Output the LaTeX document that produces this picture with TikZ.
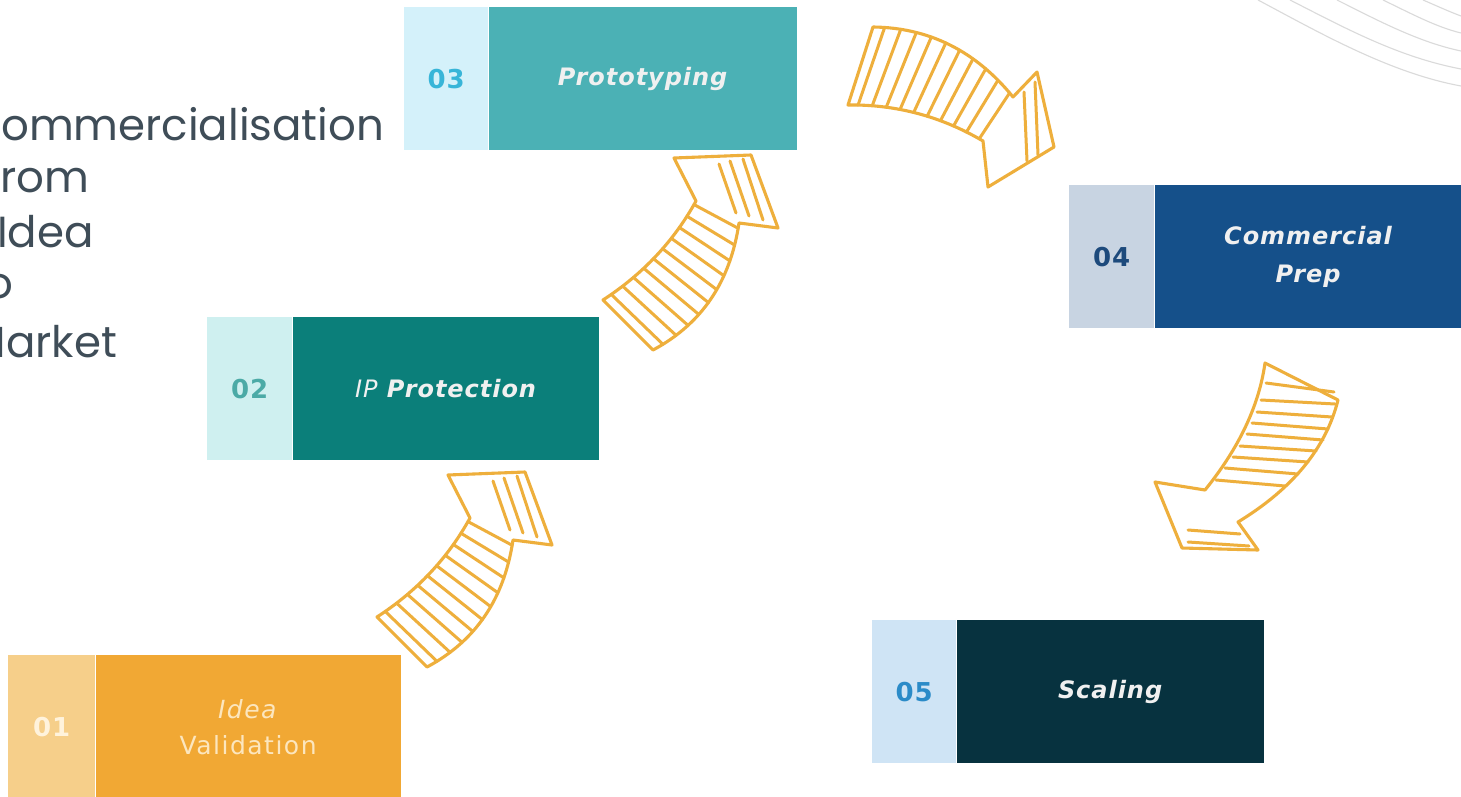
\documentclass[tikz,border=0pt]{standalone}
\usepackage{fontspec}
\setmainfont{DejaVu Sans}
\newfontfamily\leftfont{Poppins}
\newfontfamily\boxfont[LetterSpace=4]{DejaVu Sans}
\newfontfamily\valfont[LetterSpace=6]{DejaVu Sans}
\usetikzlibrary{calc}
\definecolor{aL}{HTML}{F6CF8A}\definecolor{aD}{HTML}{F1A834}\definecolor{aN}{HTML}{FFF3DC}\definecolor{aT}{HTML}{FCE6BE}
\definecolor{bL}{HTML}{CFF0F0}\definecolor{bD}{HTML}{0B7F7A}\definecolor{bN}{HTML}{4BAAA6}
\definecolor{cL}{HTML}{D4F1FA}\definecolor{cD}{HTML}{4BB1B5}\definecolor{cN}{HTML}{38B5D8}
\definecolor{dL}{HTML}{C8D4E2}\definecolor{dD}{HTML}{15508A}\definecolor{dN}{HTML}{1D4A7C}
\definecolor{eL}{HTML}{CFE4F5}\definecolor{eD}{HTML}{07323F}\definecolor{eN}{HTML}{2B8BC8}
\definecolor{arrc}{HTML}{EEAF3C}
\definecolor{lefttxt}{HTML}{3F4D58}
\definecolor{arcgrey}{HTML}{DADADA}
\tikzset{
  lightbox/.style={anchor=north west, inner sep=0pt, minimum width=86pt, minimum height=143pt, font=\boxfont\fontsize{26}{30}\selectfont\bfseries},
  darkbox/.style={anchor=north west, inner sep=0pt, minimum height=143pt, align=center, text=white!94!black, font=\boxfont\fontsize{24}{38}\selectfont\bfseries\itshape},
  lefttext/.style={anchor=base west, inner sep=0pt, text=lefttxt, font=\leftfont\fontsize{43.5}{54}\selectfont},
  arr/.style={draw=arrc, line width=3.1pt, line cap=round, line join=round},
  hatch/.style={draw=arrc, line width=3pt, line cap=round},
  bgarc/.style={draw=arcgrey, line width=1.1pt}
}
\newcommand\sketchoutline[1]{%
  \draw[arr] (#1L0) .. controls ($(#1L0)!0.667!(#1Lc)$) and ($(#1L1)!0.667!(#1Lc)$) .. (#1L1)
    -- (#1H1) -- (#1T) -- (#1H2) -- (#1R1)
    .. controls ($(#1R1)!0.667!(#1Rc)$) and ($(#1R0)!0.667!(#1Rc)$) .. (#1R0) -- cycle;
}
\newcommand\sketchhatch[1]{%
  \foreach \t in {0.07,0.17,...,0.97} {%
    \draw[hatch] ($($(#1L0)!\t!(#1Lc)$)!\t!($(#1Lc)!\t!(#1L1)$)$) -- ($($(#1R0)!\t!(#1Rc)$)!\t!($(#1Rc)!\t!(#1R1)$)$);
  }%
}
\newcommand\upcoords[1]{%
  \coordinate (#1L0) at (377,617); \coordinate (#1Lc) at (437,578); \coordinate (#1L1) at (470,518);
  \coordinate (#1R0) at (427,667); \coordinate (#1Rc) at (500,628); \coordinate (#1R1) at (513,540);
  \coordinate (#1H1) at (448,475); \coordinate (#1T) at (525,472); \coordinate (#1H2) at (552,545);
  \coordinate (#1h1a) at (493,481); \coordinate (#1h1b) at (510,530);
  \coordinate (#1h2a) at (504,478); \coordinate (#1h2b) at (523,533);
  \coordinate (#1h3a) at (517,476); \coordinate (#1h3b) at (537,537);
  \sketchoutline{#1}
  \sketchhatch{#1}
  \draw[hatch] (#1h1a) -- (#1h1b);
  \draw[hatch] (#1h2a) -- (#1h2b);
  \draw[hatch] (#1h3a) -- (#1h3b);
}
\begin{document}
\begin{tikzpicture}[x=1pt,y=-1pt]
\useasboundingbox (0,0) rectangle (1461,797);
\fill[white] (0,0) rectangle (1461,797);
\begin{scope}
\clip (0,0) rectangle (1461,797);
% background arcs (top right)
\coordinate (g1a) at (1258,0); \coordinate (g1b) at (1461,86);
\coordinate (g2a) at (1290,0); \coordinate (g2b) at (1461,69);
\coordinate (g3a) at (1337,0); \coordinate (g3b) at (1461,51);
\coordinate (g4a) at (1383,0); \coordinate (g4b) at (1461,33);
\coordinate (g5a) at (1423,0); \coordinate (g5b) at (1461,16);
\draw[bgarc] (g1a) .. controls (1320,33) and (1390,73) .. (g1b);
\draw[bgarc] (g2a) .. controls (1345,28) and (1398,57) .. (g2b);
\draw[bgarc] (g3a) .. controls (1377,20) and (1418,42) .. (g3b);
\draw[bgarc] (g4a) .. controls (1410,13) and (1436,27) .. (g4b);
\draw[bgarc] (g5a) .. controls (1437,6) and (1450,12) .. (g5b);

% left title
\node[lefttext] (t1) at (1,140) {\llap{C}ommercialisation};
\node[lefttext] (t2) at (0,192) {\llap{F}rom};
\node[lefttext] (t3) at (-3,247) {Idea};
\node[lefttext, anchor=base east] (t4) at (14,298) {To};
\node[lefttext] (t5) at (6,357) {\llap{M}arket};

% boxes
\node[lightbox, fill=aL, minimum width=87pt, text=aN] (n1) at (8,655) {01};
\node[darkbox, fill=aD, minimum width=305pt, text=aT, font=\valfont\fontsize{25}{36}\selectfont] (s1) at (n1.north east) {\textit{Idea}\\Validation};

\node[lightbox, fill=bL, minimum width=85pt, text=bN] (n2) at (207,317) {02};
\node[darkbox, fill=bD, minimum width=306pt] (s2) at (n2.north east) {\textmd{IP} Protection};

\node[lightbox, fill=cL, minimum width=84pt, text=cN] (n3) at (404,7) {03};
\node[darkbox, fill=cD, minimum width=308pt] (s3) at (n3.north east) {Prototyping};

\node[lightbox, fill=dL, minimum width=85pt, text=dN] (n4) at (1069,185) {04};
\node[darkbox, fill=dD, minimum width=307pt] (s4) at (n4.north east) {Commercial\\Prep};

\node[lightbox, fill=eL, minimum width=84pt, text=eN] (n5) at (872,620) {05};
\node[darkbox, fill=eD, minimum width=307pt] (s5) at (n5.north east) {Scaling};

% arrow 01 -> 02
\upcoords{a}
% arrow 02 -> 03
\begin{scope}[shift={(226,-317)}]
\upcoords{b}
\end{scope}

% arrow 03 -> 04
\coordinate (cL0) at (873,27); \coordinate (cLc) at (957,28); \coordinate (cL1) at (1013,97);
\coordinate (cR0) at (848,105); \coordinate (cRc) at (920,104); \coordinate (cR1) at (983,141);
\coordinate (cH1) at (1037,72); \coordinate (cT) at (1054,147); \coordinate (cH2) at (988,187);
\sketchoutline{c}
\sketchhatch{c}
\coordinate (ch1a) at (1024,92); \coordinate (ch1b) at (1027,161);
\coordinate (ch2a) at (1035,82); \coordinate (ch2b) at (1038,155);
\draw[hatch] (ch1a) -- (ch1b);
\draw[hatch] (ch2a) -- (ch2b);

% arrow 04 -> 05
\coordinate (dL0) at (1265,363); \coordinate (dLc) at (1256,427); \coordinate (dL1) at (1205,490);
\coordinate (dR0) at (1338,400); \coordinate (dRc) at (1320,472); \coordinate (dR1) at (1238,522);
\coordinate (dH1) at (1155,482); \coordinate (dT) at (1182,548); \coordinate (dH2) at (1258,550);
\sketchoutline{d}
\foreach \ya/\xa/\yb/\xb in {383/1266/392/1334, 400/1261/404/1335, 412/1257/417/1332, 423/1252/429/1328,
  434/1247/440/1323, 446/1240/451/1316, 457/1233/462/1308, 468/1225/474/1298, 480/1216/486/1285}
  { \draw[hatch] (\xa,\ya) -- (\xb,\yb); }
\coordinate (dh1a) at (1188,530); \coordinate (dh1b) at (1240,534);
\coordinate (dh2a) at (1188,542); \coordinate (dh2b) at (1249,546);
\draw[hatch] (dh1a) -- (dh1b);
\draw[hatch] (dh2a) -- (dh2b);
\end{scope}
\end{tikzpicture}
\end{document}
